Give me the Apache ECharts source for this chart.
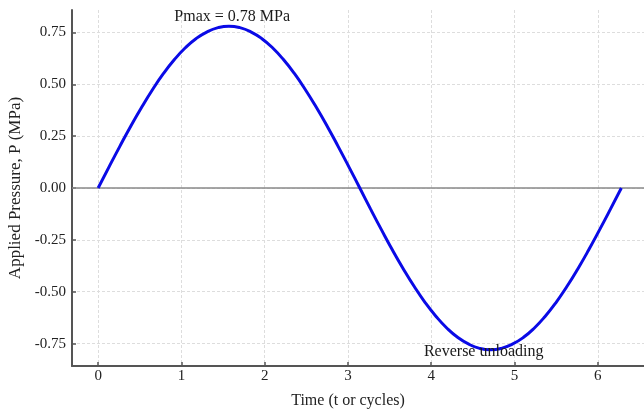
<!DOCTYPE html>
<html><head><meta charset="utf-8">
<script src="https://cdn.jsdelivr.net/npm/echarts@6/dist/echarts.min.js"></script>
<style>html,body{margin:0;padding:0;background:#fff}#c{width:644px;height:409px}</style>
</head><body><div id="c"></div>
<script>
// Time values (t)
const tValues = [0, 0.131, 0.262, 0.393, 0.524, 0.654, 0.785, 0.916, 1.047, 1.178, 1.309, 1.440, 1.571, 1.702, 1.833, 1.963, 2.094, 2.225, 2.356, 2.487, 2.618, 2.749, 2.880, 3.011, 3.142, 3.272, 3.403, 3.534, 3.665, 3.796, 3.927, 4.058, 4.189, 4.320, 4.451, 4.581, 4.712, 4.843, 4.974, 5.105, 5.236, 5.367, 5.498, 5.629, 5.760, 5.890, 6.021, 6.152, 6.283];
// Applied pressure values (MPa)
const pValues = [0, 0.102, 0.202, 0.299, 0.390, 0.475, 0.552, 0.619, 0.676, 0.721, 0.753, 0.773, 0.780, 0.773, 0.753, 0.721, 0.676, 0.619, 0.552, 0.475, 0.390, 0.299, 0.202, 0.102, 0, -0.102, -0.202, -0.299, -0.390, -0.475, -0.552, -0.619, -0.676, -0.721, -0.753, -0.773, -0.780, -0.773, -0.753, -0.721, -0.676, -0.619, -0.552, -0.475, -0.390, -0.299, -0.202, -0.102, 0];
const xTicks = [0, 1, 2, 3, 4, 5, 6];
const yTicks = [-0.75, -0.5, -0.25, 0, 0.25, 0.5, 0.75];
const annotations = [
  {text: 'Pmax = 0.78 MPa', x: 1.61, y: 0.78, pos: 'top'},
  {text: 'Reverse unloading', x: 4.63, y: -0.79, pos: 'inside'}
];

const font = '"Liberation Serif", "DejaVu Serif", serif';
const chart = echarts.init(document.getElementById('c'), null, {renderer: 'canvas'});
const data = tValues.map((t, i) => [t, pValues[i]]);
chart.setOption({
  animation: false,
  grid: {left: 72, right: 0, top: 10, bottom: 43, outerBoundsMode: 'none', containLabel: false},
  xAxis: {
    type: 'value', min: -0.314, max: 6.555,
    name: 'Time (t or cycles)', nameLocation: 'middle', nameGap: 27,
    nameTextStyle: {fontFamily: font, fontSize: 16, color: '#222', padding: [0, 20, 0, 0]},
    axisLine: {show: true, onZero: false, lineStyle: {color: '#555', width: 2}},
    axisTick: {show: true, inside: true, length: 4, customValues: xTicks, lineStyle: {color: '#555', width: 1.5}},
    axisLabel: {customValues: xTicks, fontFamily: font, fontSize: 15, color: '#222', margin: 3},
    splitLine: {show: true, lineStyle: {color: '#ddd', type: [3, 2], width: 1}}
  },
  yAxis: {
    type: 'value', min: -0.858, max: 0.858,
    name: 'Applied Pressure, P (MPa)', nameLocation: 'middle', nameGap: 40,
    nameTextStyle: {fontFamily: font, fontSize: 17, color: '#222'},
    axisLine: {show: true, onZero: false, lineStyle: {color: '#555', width: 2}},
    axisTick: {show: true, inside: true, length: 4, customValues: yTicks, lineStyle: {color: '#555', width: 1.5}},
    axisLabel: {customValues: yTicks, fontFamily: font, fontSize: 15, color: '#222', margin: 6,
      formatter: v => v.toFixed(2)},
    splitLine: {show: true, lineStyle: {color: '#ddd', type: [3, 2], width: 1}}
  },
  series: [{
    type: 'line', data: data, smooth: true, showSymbol: false, symbol: 'none',
    lineStyle: {color: '#0a0ae6', width: 3}, z: 3,
    markLine: {
      silent: true, symbol: 'none', label: {show: false},
      lineStyle: {color: '#888', type: 'solid', width: 1.5},
      data: [{yAxis: 0}], z: 2
    }
  }, {
    type: 'scatter', symbol: 'circle', symbolSize: 0, z: 5, silent: true,
    itemStyle: {opacity: 1},
    data: annotations.map(a => ({value: [a.x, a.y], name: a.text,
      label: {position: a.pos}})),
    label: {show: true, distance: 1, formatter: p => p.name,
      fontFamily: font, fontSize: 16, color: '#1a1a1a'}
  }]
});
</script></body></html>
